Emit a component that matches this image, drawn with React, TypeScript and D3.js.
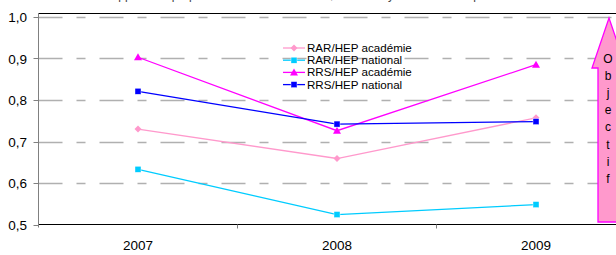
import React from 'react';
import * as d3 from 'd3';

const years = ['2007', '2008', '2009'];
const rarAcademie = [0.73, 0.659, 0.757];
const rarNational = [0.633, 0.524, 0.548];
const rrsAcademie = [0.903, 0.726, 0.885];
const rrsNational = [0.821, 0.742, 0.748];
const yTicks = [0.5, 0.6, 0.7, 0.8, 0.9, 1.0];
const objectif = 'Objectif';

const series = [
  { name: 'RAR/HEP académie', values: rarAcademie, color: '#ff99cc', marker: 'diamond' },
  { name: 'RAR/HEP national', values: rarNational, color: '#00ccff', marker: 'square' },
  { name: 'RRS/HEP académie', values: rrsAcademie, color: '#ff00ff', marker: 'triangle' },
  { name: 'RRS/HEP national', values: rrsNational, color: '#0000ff', marker: 'square' },
];

const Marker = ({ type, x, y, color }) => {
  if (type === 'diamond') {
    return <path d={`M${x},${y - 3.5}L${x + 3.5},${y}L${x},${y + 3.5}L${x - 3.5},${y}Z`} fill={color} />;
  }
  if (type === 'triangle') {
    return <path d={`M${x},${y - 4}L${x + 4},${y + 3}L${x - 4},${y + 3}Z`} fill={color} />;
  }
  return <rect x={x - 3} y={y - 3} width={6} height={6} fill={color} stroke="#ffffff" strokeWidth={0.4} />;
};

const App = () => {
  const width = 616;
  const height = 255;
  const left = 38.5;
  const top = 13.5;
  const bottom = 224.5;

  const x = d3.scaleBand().domain(years).range([left, left + 597]);
  const y = d3.scaleLinear().domain([0.5, 1.0]).range([bottom, 17]);
  const line = d3
    .line<number>()
    .x((d, i) => x(years[i]) + x.bandwidth() / 2)
    .y((d) => y(d));

  const font = 'Liberation Sans, Arial, sans-serif';

  // arrow shape on the right
  const ax = 609;
  const arrow = `M${ax},18 L${ax + 17},68 L${ax + 11},68 L${ax + 11},222 L${ax - 11},222 L${ax - 11},68 L${ax - 17},68 Z`;

  return (
    <svg width={width} height={height} style={{ position: 'absolute', left: 0, top: 0 }}>
      <rect width={width} height={height} fill="#ffffff" />
      <text x={103} y={-1} fontFamily={font} fontSize={12} fill="#444">
        Rapport des proportions d'élèves en retard, HEP / moyenne académique
      </text>

      {yTicks.slice(1).map((t) => (
        <line key={t} x1={left} x2={width} y1={Math.round(y(t)) + 0.5} y2={Math.round(y(t)) + 0.5}
          stroke="#b0b0b0" strokeWidth={1.3} strokeDasharray="24,14,9,14" />
      ))}
      <line x1={left} x2={width} y1={top} y2={top} stroke="#000" strokeWidth={1} />
      <line x1={left} x2={width} y1={bottom} y2={bottom} stroke="#000" strokeWidth={1} />
      <line x1={left} x2={left} y1={top} y2={bottom + 3} stroke="#808080" strokeWidth={1} />

      {yTicks.map((t) => (
        <g key={t}>
          <line x1={left - 5} x2={left} y1={Math.round(y(t)) + 0.5} y2={Math.round(y(t)) + 0.5} stroke="#808080" />
          <text x={27} y={y(t) + 5} textAnchor="end" fontFamily={font} fontSize={13.5} fill="#000">
            {d3.format('.1f')(t).replace('.', ',')}
          </text>
        </g>
      ))}

      {years.map((yr, i) => (
        <g key={yr}>
          {i > 0 && <line x1={x(yr)} x2={x(yr)} y1={bottom} y2={bottom + 4} stroke="#808080" />}
          <text x={x(yr) + x.bandwidth() / 2} y={250} textAnchor="middle" fontFamily={font} fontSize={13.5} fill="#000">
            {yr}
          </text>
        </g>
      ))}

      {series.map((s) => (
        <g key={s.name}>
          <path d={line(s.values)} fill="none" stroke={s.color} strokeWidth={1.3} />
          {s.values.map((v, i) => (
            <Marker key={i} type={s.marker} x={x(years[i]) + x.bandwidth() / 2} y={y(v)} color={s.color} />
          ))}
        </g>
      ))}

      {series.map((s, i) => {
        const ly = 48 + i * 12.2;
        return (
          <g key={s.name}>
            <line x1={283} x2={305} y1={ly} y2={ly} stroke={s.color} strokeWidth={1.3} />
            <Marker type={s.marker} x={294} y={ly} color={s.color} />
            <text x={307} y={ly + 4} fontFamily={font} fontSize={11.6} fill="#000">{s.name}</text>
          </g>
        );
      })}

      <path d={arrow} fill="#ff99cc" stroke="#ff00ff" strokeWidth={1.3} />
      {objectif.split('').map((c, i) => (
        <text key={i} x={ax - 1} y={63 + i * 17.1} textAnchor="middle" fontFamily={font} fontSize={12} fill="#000">
          {c}
        </text>
      ))}
    </svg>
  );
};

export default App;
